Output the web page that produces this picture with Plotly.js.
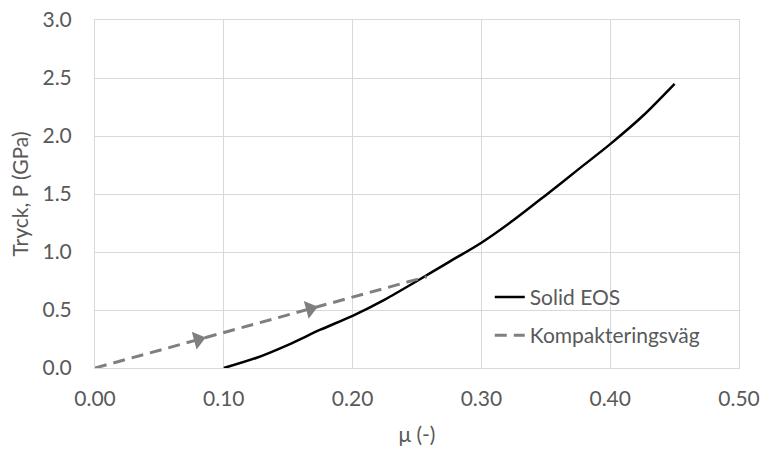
<!DOCTYPE html>
<html><head><meta charset="utf-8">
<script src="https://cdn.plot.ly/plotly-3.0.1.min.js"></script>
<style>body{margin:0;background:#fff}#c{width:761px;height:452px}</style>
</head><body><div id="c"></div>
<script>
var eosMu = [0.10, 0.125, 0.15, 0.175, 0.20, 0.225, 0.25, 0.275, 0.30, 0.325, 0.35, 0.375, 0.40, 0.425, 0.45];
var eosP  = [0.00, 0.086, 0.20, 0.33, 0.45, 0.59, 0.75, 0.915, 1.08, 1.275, 1.49, 1.71, 1.93, 2.17, 2.45];
var pathMu = [0.00, 0.2575];
var pathP  = [0.00, 0.787];
var arrowMu = [0.08, 0.167];
var arrowP  = [0.245, 0.51];
var xTicks = [0, 0.1, 0.2, 0.3, 0.4, 0.5];
var xTickText = ['0.00','0.10','0.20','0.30','0.40','0.50'];
var yTicks = [0, 0.5, 1.0, 1.5, 2.0, 2.5, 3.0];
var yTickText = ['0.0','0.5','1.0','1.5','2.0','2.5','3.0'];

var font = 'Lato, "Open Sans", sans-serif';
var fs = 21;
var traces = [
  {x: eosMu, y: eosP, mode: 'lines', name: 'Solid EOS', legendgroup: 'a',
   line: {color: '#000000', width: 2.5, shape: 'spline', smoothing: 0.8}},
  {x: pathMu, y: pathP, mode: 'lines', name: 'Kompakteringsväg', legendgroup: 'b',
   line: {color: '#7f7f7f', width: 3, dash: '12px,7px'}},
  {x: arrowMu, y: arrowP, mode: 'markers', showlegend: false, hoverinfo: 'skip',
   marker: {symbol: 'triangle-right', size: 16, color: '#7f7f7f', angle: -15}}
];
var layout = {
  width: 761, height: 452,
  margin: {l: 95, r: 22, t: 20, b: 84},
  paper_bgcolor: '#fff', plot_bgcolor: '#fff',
  font: {family: font, color: '#595959', size: fs},
  showlegend: true,
  legend: {x: 0.613, y: 0.262, xanchor: 'left', yanchor: 'top', bgcolor: 'rgba(255,255,255,0)',
           font: {size: fs, color: '#595959'}, tracegroupgap: 8, traceorder: 'grouped'},
  shapes: [{type: 'rect', xref: 'paper', yref: 'paper', x0: 0.548, x1: 0.982, y0: 0.025, y1: 0.272,
            layer: 'below', fillcolor: '#ffffff', line: {width: 0}}],
  xaxis: {range: [0, 0.5], tickvals: xTicks, ticktext: xTickText, showgrid: true,
          gridcolor: '#d9d9d9', gridwidth: 1, zeroline: false, showline: true, linecolor: '#d9d9d9',
          mirror: true, ticks: '', ticklabelstandoff: 12, tickfont: {size: fs, color: '#595959'},
          title: {text: 'μ (-)', font: {size: fs, color: '#595959'}, standoff: 18}, automargin: false},
  yaxis: {range: [0, 3.0], tickvals: yTicks, ticktext: yTickText, showgrid: true,
          gridcolor: '#d9d9d9', gridwidth: 1, zeroline: false, showline: true, linecolor: '#d9d9d9',
          mirror: true, ticks: '', ticklabelstandoff: 18, tickfont: {size: fs, color: '#595959'},
          title: {text: 'Tryck, P (GPa)', font: {size: fs, color: '#595959'}, standoff: 8}, automargin: false}
};
Plotly.newPlot('c', traces, layout, {displayModeBar: false, staticPlot: true});
</script></body></html>
